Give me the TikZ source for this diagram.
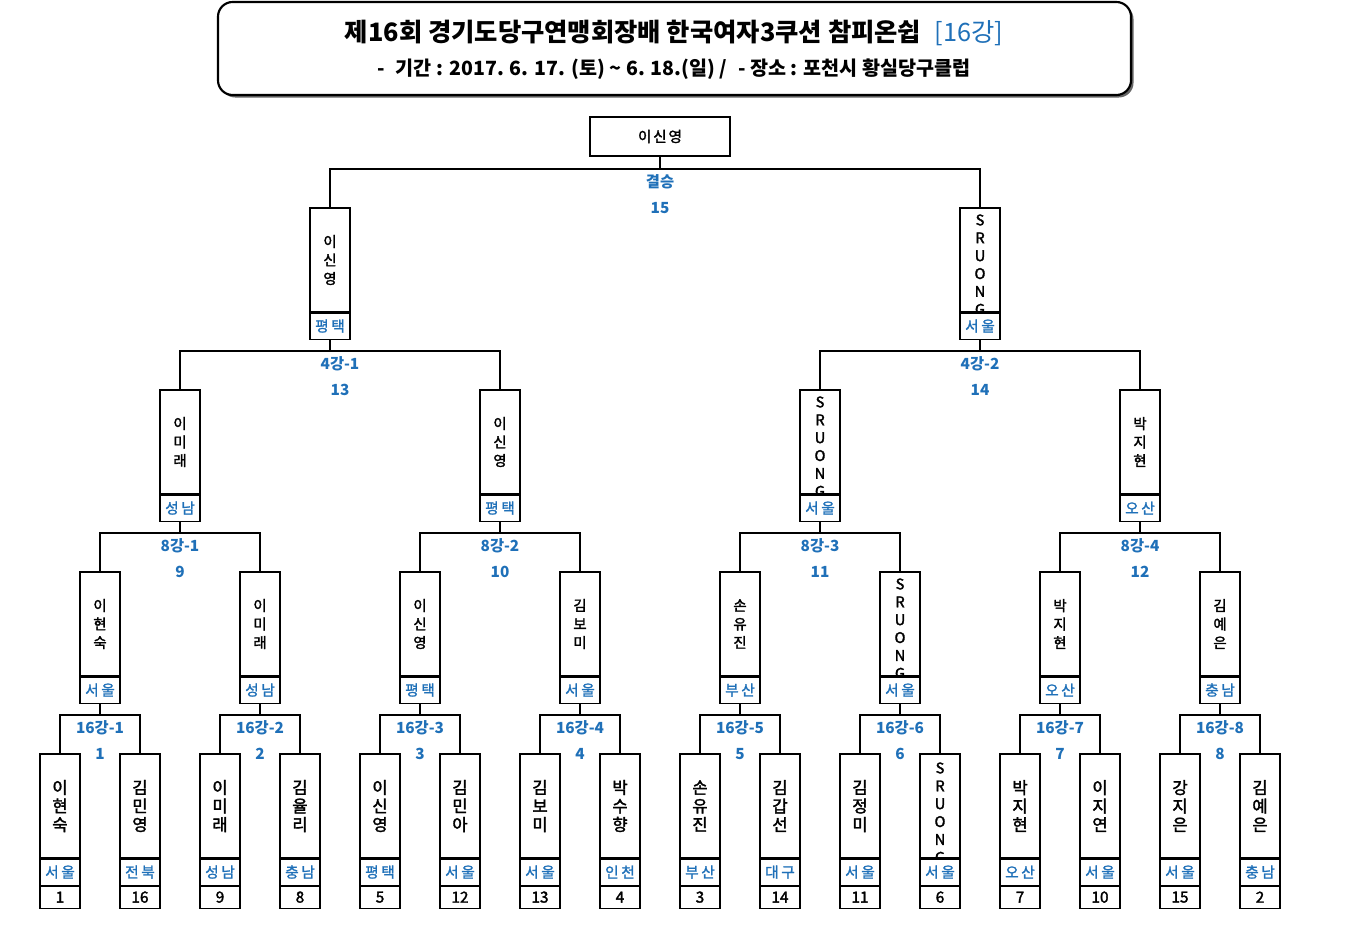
\documentclass[tikz,border=0pt]{standalone}
\usepackage{fontspec}
\usepackage{graphicx}
\setmainfont{Noto Sans CJK KR}
\newfontfamily\krmed{Noto Sans CJK KR}[FakeBold=2]
\newfontfamily\krsp{Noto Sans CJK KR}[LetterSpace=18,FakeBold=1.5]
\newfontfamily\krspb{Noto Sans CJK KR}[LetterSpace=12,FakeBold=2]
\definecolor{lblue}{HTML}{1F70B8}
\newcommand\nmbig{\krmed\fontsize{12.5}{13.9}\selectfont}
\newcommand\nmsmall{\krmed\fontsize{10.8}{13.9}\selectfont}
\newcommand\nmlat{\krmed\fontsize{11}{13.4}\selectfont}
\tikzset{
  pbox/.style={draw, line width=0.8pt, inner sep=0pt, minimum width=30pt},
  namebox/.style={pbox, minimum height=78pt},
  regbox/.style={pbox, minimum height=19.5pt, font=\krsp\fontsize{11}{12}\selectfont, text=lblue},
  numbox/.style={pbox, minimum height=16.5pt, font=\krmed\fontsize{11.5}{12}\selectfont},
  nametext/.style={align=center, inner sep=0pt},
  rlabel/.style={font=\bfseries\fontsize{11.5}{13}\selectfont, text=lblue, inner sep=0pt},
  wire/.style={line width=0.8pt}
}
% #1 id, #2 cx, #3 top, #4 font, #5 name, #6 region, #7 number, #8 text shift
\newcommand\plr[8]{%
  \node[namebox] (n#1) at (#2,#3+52) {};
  \begin{scope}
    \clip (n#1.south west) rectangle (n#1.north east);
    \node[nametext, font=#4] at ([yshift=#8]n#1.center) {#5};
  \end{scope}
  \node[regbox, anchor=north] (r#1) at (n#1.south) {#6};
  \ifx&#7&\else\node[numbox, anchor=north] (k#1) at (r#1.south) {#7};\fi
}
% #1 id, #2 y, #3 parent, #4 left child, #5 right child, #6 label, #7 number, #8 label x
\newcommand\brk[8]{%
  \coordinate (y#1) at (0,#2);
  \coordinate (j#1) at (#3.south |- y#1);
  \draw[wire] (#4.north) |- (j#1) -| (#5.north);
  \draw[wire] (#3.south) -- (j#1);
  \node[rlabel] (l#1) at (#8,#2+13) {#6};
  \node[rlabel] (m#1) at (#8,#2+39) {#7};
}
\begin{document}
\begin{tikzpicture}[x=0.75pt,y=-0.75pt]
\useasboundingbox (0,0) rectangle (1351,946);
% title
\fill[black!60, rounded corners=11pt] (220.5,4.5) rectangle (1133.5,97.5);
\draw[line width=1.6pt, fill=white, rounded corners=11pt] (218,2) rectangle (1131,95);
\node[inner sep=0pt] (title) at (674,33) {\bfseries\fontsize{19}{21}\selectfont 제16회 경기도당구연맹회장배 한국여자3쿠션 참피온쉽\hspace{10pt}{\mdseries\textcolor{lblue}{[16강]}}};
\node[inner sep=0pt] (sub) at (674,69) {\bfseries\fontsize{14.7}{16}\selectfont -\hspace{8pt}기간 : 2017. 6. 17. (토) \textasciitilde{} 6. 18.(일) /\hspace{8pt}- 장소 : 포천시 황실당구클럽};
% champion
\node[pbox, minimum width=105pt, minimum height=29.25pt, font=\krspb\fontsize{11}{12}\selectfont] (champ) at (660,136.5) {이신영};
% round of 16
\plr{a1}{60}{754}{\nmbig}{이\\현\\숙}{서울}{1}{0pt}
\plr{a2}{140}{754}{\nmbig}{김\\민\\영}{전북}{16}{0pt}
\plr{a3}{220}{754}{\nmbig}{이\\미\\래}{성남}{9}{0pt}
\plr{a4}{300}{754}{\nmbig}{김\\율\\리}{충남}{8}{0pt}
\plr{a5}{380}{754}{\nmbig}{이\\신\\영}{평택}{5}{0pt}
\plr{a6}{460}{754}{\nmbig}{김\\민\\아}{서울}{12}{0pt}
\plr{a7}{540}{754}{\nmbig}{김\\보\\미}{서울}{13}{0pt}
\plr{a8}{620}{754}{\nmbig}{박\\수\\향}{인천}{4}{0pt}
\plr{a9}{700}{754}{\nmbig}{손\\유\\진}{부산}{3}{0pt}
\plr{a10}{780}{754}{\nmbig}{김\\갑\\선}{대구}{14}{0pt}
\plr{a11}{860}{754}{\nmbig}{김\\정\\미}{서울}{11}{0pt}
\plr{a12}{940}{754}{\nmlat}{S\\R\\U\\O\\N\\G}{서울}{6}{-5pt}
\plr{a13}{1020}{754}{\nmbig}{박\\지\\현}{오산}{7}{0pt}
\plr{a14}{1100}{754}{\nmbig}{이\\지\\연}{서울}{10}{0pt}
\plr{a15}{1180}{754}{\nmbig}{강\\지\\은}{서울}{15}{0pt}
\plr{a16}{1260}{754}{\nmbig}{김\\예\\은}{충남}{2}{0pt}
% round of 8
\plr{b1}{100}{572}{\nmsmall}{이\\현\\숙}{서울}{}{0pt}
\plr{b2}{260}{572}{\nmsmall}{이\\미\\래}{성남}{}{0pt}
\plr{b3}{420}{572}{\nmsmall}{이\\신\\영}{평택}{}{0pt}
\plr{b4}{580}{572}{\nmsmall}{김\\보\\미}{서울}{}{0pt}
\plr{b5}{740}{572}{\nmsmall}{손\\유\\진}{부산}{}{0pt}
\plr{b6}{900}{572}{\nmlat}{S\\R\\U\\O\\N\\G}{서울}{}{-3.5pt}
\plr{b7}{1060}{572}{\nmsmall}{박\\지\\현}{오산}{}{0pt}
\plr{b8}{1220}{572}{\nmsmall}{김\\예\\은}{충남}{}{0pt}
% round of 4
\plr{c1}{180}{390}{\nmsmall}{이\\미\\래}{성남}{}{0pt}
\plr{c2}{500}{390}{\nmsmall}{이\\신\\영}{평택}{}{0pt}
\plr{c3}{820}{390}{\nmlat}{S\\R\\U\\O\\N\\G}{서울}{}{-3.5pt}
\plr{c4}{1140}{390}{\nmsmall}{박\\지\\현}{오산}{}{0pt}
% semifinal
\plr{d1}{330}{208}{\nmsmall}{이\\신\\영}{평택}{}{0pt}
\plr{d2}{980}{208}{\nmlat}{S\\R\\U\\O\\N\\G}{서울}{}{-3.5pt}
% brackets
\brk{A1}{715}{rb1}{na1}{na2}{16강-1}{1}{100}
\brk{A2}{715}{rb2}{na3}{na4}{16강-2}{2}{260}
\brk{A3}{715}{rb3}{na5}{na6}{16강-3}{3}{420}
\brk{A4}{715}{rb4}{na7}{na8}{16강-4}{4}{580}
\brk{A5}{715}{rb5}{na9}{na10}{16강-5}{5}{740}
\brk{A6}{715}{rb6}{na11}{na12}{16강-6}{6}{900}
\brk{A7}{715}{rb7}{na13}{na14}{16강-7}{7}{1060}
\brk{A8}{715}{rb8}{na15}{na16}{16강-8}{8}{1220}
\brk{B1}{533}{rc1}{nb1}{nb2}{8강-1}{9}{180}
\brk{B2}{533}{rc2}{nb3}{nb4}{8강-2}{10}{500}
\brk{B3}{533}{rc3}{nb5}{nb6}{8강-3}{11}{820}
\brk{B4}{533}{rc4}{nb7}{nb8}{8강-4}{12}{1140}
\brk{C1}{351}{rd1}{nc1}{nc2}{4강-1}{13}{340}
\brk{C2}{351}{rd2}{nc3}{nc4}{4강-2}{14}{980}
\brk{F}{169}{champ}{nd1}{nd2}{결승}{15}{660}
\end{tikzpicture}
\end{document}
